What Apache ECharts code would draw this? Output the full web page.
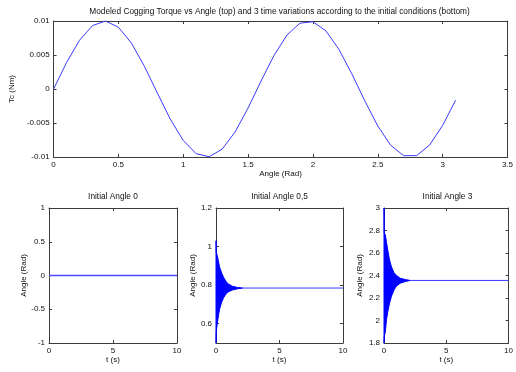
<!DOCTYPE html>
<html>
<head>
<meta charset="utf-8" />
<script src="https://cdn.jsdelivr.net/npm/echarts@6/dist/echarts.min.js"></script>
<style>
  html, body { margin: 0; padding: 0; background: #ffffff; }
  #chart { width: 516px; height: 372px; }
</style>
</head>
<body>
<div id="chart"></div>
<script>
// top plot: modeled cogging torque vs angle
const tcAngle = [0, 0.1, 0.2, 0.3, 0.4, 0.5, 0.6, 0.7, 0.8, 0.9, 1.0, 1.1, 1.2, 1.3, 1.4, 1.5,
  1.6, 1.7, 1.8, 1.9, 2.0, 2.1, 2.2, 2.3, 2.4, 2.5, 2.6, 2.7, 2.8, 2.9, 3.0, 3.1];
const tcValues = [0, 0.00389, 0.00717, 0.00932, 0.01, 0.00909, 0.00676, 0.00335, -0.00058, -0.00443,
  -0.00757, -0.00952, -0.00996, -0.00884, -0.00631, -0.00279, 0.00117, 0.00494, 0.00794, 0.00968,
  0.00989, 0.00855, 0.00585, 0.00223, -0.00174, -0.00544, -0.00828, -0.00981, -0.00979, -0.00823,
  -0.00537, -0.00166];

// bottom plots: envelope of the oscillation
const simTime = [0, 0.02, 0.1, 0.2, 0.3, 0.45, 0.6, 0.8, 1.0, 1.3, 1.7, 2.1];
const endTime = 10;

const final0 = 0;

const upper05 = [1.03, 0.970, 0.955, 0.920, 0.890, 0.862, 0.840, 0.818, 0.805, 0.794, 0.788, 0.785];
const lower05 = [0.50, 0.560, 0.600, 0.645, 0.680, 0.712, 0.735, 0.755, 0.766, 0.775, 0.781, 0.785];
const final05 = 0.785;

const upper3 = [3.0, 2.776, 2.766, 2.696, 2.626, 2.536, 2.476, 2.426, 2.401, 2.376, 2.364, 2.356];
const lower3 = [1.8, 1.856, 1.896, 2.006, 2.076, 2.156, 2.216, 2.271, 2.306, 2.331, 2.346, 2.356];
const final3 = 2.356;

const FONT = 'Liberation Sans, Arial, sans-serif';
const AXIS_COLOR = '#3c3c3c';
const BLUE = '#0000ff';
const LIGHT_BLUE = '#3a3aff';

const grids = [
  { left: 49, top: 21, width: 461, height: 136 },
  { left: 49, top: 208, width: 128, height: 135 },
  { left: 216, top: 208, width: 127, height: 135 },
  { left: 384, top: 208, width: 127, height: 135 }
];

const xSpecs = [
  { min: 0, max: 3.5, interval: 0.5, name: 'Angle (Rad)' },
  { min: 0, max: 10, interval: 5, name: 't (s)' },
  { min: 0, max: 10, interval: 5, name: 't (s)' },
  { min: 0, max: 10, interval: 5, name: 't (s)' }
];

const ySpecs = [
  { min: -0.01, max: 0.01, interval: 0.005, name: 'Tc (Nm)', gap: 32 },
  { min: -1, max: 1, interval: 0.5, name: 'Angle (Rad)', gap: 19 },
  { min: 0.5, max: 1.2, custom: [0.6, 0.8, 1, 1.2], name: 'Angle (Rad)', gap: 19 },
  { min: 1.8, max: 3, interval: 0.2, name: 'Angle (Rad)', gap: 20 }
];

const xAxes = [];
const yAxes = [];
grids.forEach((g, i) => {
  const xs = xSpecs[i];
  ['bottom', 'top'].forEach((pos, k) => {
    xAxes.push({
      type: 'value', gridIndex: i, position: pos,
      min: xs.min, max: xs.max, interval: xs.interval,
      name: k === 0 ? xs.name : '', nameLocation: 'middle', nameGap: 13,
      nameTextStyle: { fontFamily: FONT, fontSize: 8, color: '#111' },
      axisLine: { show: true, onZero: false, lineStyle: { color: AXIS_COLOR, width: 1 } },
      axisTick: { show: true, inside: true, length: 3, lineStyle: { color: AXIS_COLOR } },
      axisLabel: { show: k === 0, fontFamily: FONT, fontSize: 8, color: '#111', margin: 4 },
      splitLine: { show: false }
    });
  });
  const ys = ySpecs[i];
  ['left', 'right'].forEach((pos, k) => {
    const ax = {
      type: 'value', gridIndex: i, position: pos,
      min: ys.min, max: ys.max,
      name: k === 0 ? ys.name : '', nameLocation: 'middle', nameGap: ys.gap,
      nameTextStyle: { fontFamily: FONT, fontSize: 8, color: '#111' },
      axisLine: { show: true, onZero: false, lineStyle: { color: AXIS_COLOR, width: 1 } },
      axisTick: { show: true, inside: true, length: 3, lineStyle: { color: AXIS_COLOR } },
      axisLabel: { show: k === 0, fontFamily: FONT, fontSize: 8, color: '#111', margin: 4 },
      splitLine: { show: false }
    };
    if (ys.custom) {
      ax.axisTick.customValues = ys.custom;
      ax.axisLabel.customValues = ys.custom;
    } else {
      ax.interval = ys.interval;
    }
    yAxes.push(ax);
  });
});

const lineBase = {
  type: 'line', symbol: 'none', silent: true, z: 5,
  lineStyle: { color: BLUE, width: 1 }
};

// dense oscillation drawn as the filled region between the two envelopes
function bandSeries(i, upper, lower, final) {
  return [
    {
      type: 'custom', xAxisIndex: 2 * i, yAxisIndex: 2 * i, silent: true,
      data: [[simTime[0], upper[0]]],
      renderItem: (params, api) => {
        const pts = simTime.map((t, j) => api.coord([t, upper[j]]));
        for (let j = simTime.length - 1; j >= 0; j--) {
          pts.push(api.coord([simTime[j], lower[j]]));
        }
        return {
          type: 'polygon',
          shape: { points: pts },
          style: { fill: BLUE, stroke: BLUE, lineWidth: 1 }
        };
      }
    },
    Object.assign({}, lineBase, {
      xAxisIndex: 2 * i, yAxisIndex: 2 * i,
      lineStyle: { color: LIGHT_BLUE, width: 1 },
      data: [[simTime[simTime.length - 1], final], [endTime, final]]
    })
  ];
}

const series = [
  Object.assign({}, lineBase, {
    xAxisIndex: 0, yAxisIndex: 0,
    lineStyle: { color: LIGHT_BLUE, width: 1 },
    data: tcAngle.map((a, j) => [a, tcValues[j]])
  }),
  Object.assign({}, lineBase, {
    xAxisIndex: 2, yAxisIndex: 2,
    lineStyle: { color: '#4a4aff', width: 1.4 },
    data: [[0, final0], [endTime, final0]]
  })
].concat(bandSeries(2, upper05, lower05, final05), bandSeries(3, upper3, lower3, final3));

const titleStyle = { fontFamily: FONT, fontSize: 8.3, fontWeight: 'normal', color: '#111' };
const titles = [
  { text: 'Modeled Cogging Torque vs Angle (top) and 3 time variations according to the initial conditions (bottom)', left: 279.5, top: 8 },
  { text: 'Initial Angle 0', left: 113, top: 193 },
  { text: 'Initial Angle 0,5', left: 279.5, top: 193 },
  { text: 'Initial Angle 3', left: 447.5, top: 193 }
].map(t => ({
  text: t.text, left: t.left, top: t.top, textAlign: 'center', padding: 0,
  textStyle: titleStyle
}));

const chart = echarts.init(document.getElementById('chart'), null, { renderer: 'canvas' });
chart.setOption({
  backgroundColor: '#ffffff',
  animation: false,
  title: titles,
  grid: grids,
  xAxis: xAxes,
  yAxis: yAxes,
  series: series
});
</script>
</body>
</html>
